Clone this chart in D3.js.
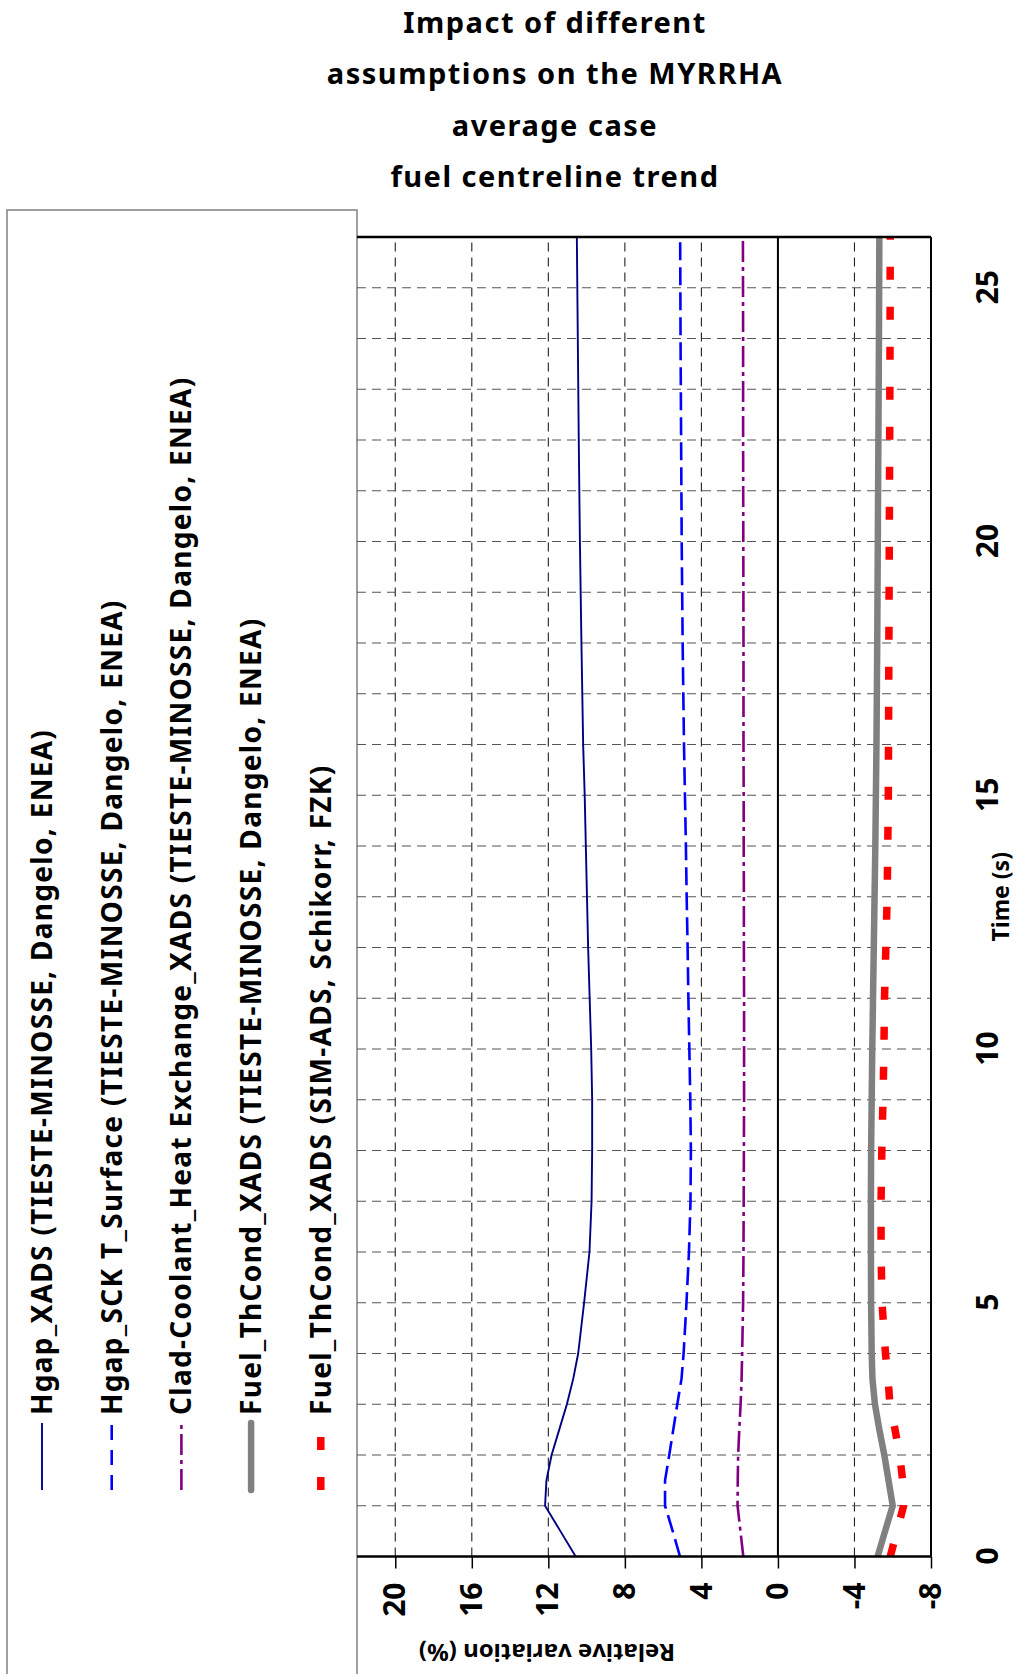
<!DOCTYPE html>
<html>
<head>
<meta charset="utf-8">
<script src="https://cdn.jsdelivr.net/npm/d3@7"></script>
<style>
  body { margin: 0; background: #fff; }
  svg { display: block; }
  text { font-family: 'Noto Sans', 'DejaVu Sans', sans-serif; font-weight: bold; fill: #000; }
</style>
</head>
<body>
<svg id="chart" width="1021" height="1674"></svg>
<script>
// ---- data -------------------------------------------------------------
const titleLines = ["Impact of different", "assumptions on the MYRRHA", "average case", "fuel centreline trend"];
const timeTicks = [0, 5, 10, 15, 20, 25];
const valueTicks = [20, 16, 12, 8, 4, 0, -4, -8];
const gridValues = [20, 16, 12, 8, 4, -4];
const gridTimes = [1,2,3,4,5,6,7,8,9,10,11,12,13,14,15,16,17,18,19,20,21,22,23,24,25];

// time (s)
const time = [0, 0.5, 1, 1.5, 2, 2.5, 3, 3.5, 4, 5, 6, 7, 8, 9, 10, 11, 12, 13, 14, 15, 16, 18, 20, 22, 24, 26];
// relative variation of fuel centreline temperature (%)
const hgapXads      = [10.57, 11.37, 12.17, 12.10, 11.83, 11.43, 11.03, 10.70, 10.44, 10.13, 9.85, 9.74, 9.71, 9.71, 9.76, 9.84, 9.92, 9.98, 10.04, 10.10, 10.18, 10.27, 10.35, 10.41, 10.46, 10.51];
const hgapSck       = [5.12, 5.50, 5.90, 5.90, 5.68, 5.47, 5.26, 5.04, 4.93, 4.78, 4.65, 4.57, 4.55, 4.58, 4.63, 4.68, 4.72, 4.77, 4.81, 4.86, 4.91, 4.98, 5.03, 5.06, 5.09, 5.11];
const cladCoolant   = [1.81, 1.96, 2.11, 2.10, 2.08, 2.02, 1.95, 1.90, 1.87, 1.82, 1.80, 1.79, 1.78, 1.77, 1.77, 1.77, 1.78, 1.78, 1.79, 1.79, 1.80, 1.80, 1.81, 1.82, 1.82, 1.83];
const fuelThCondTm  = [-5.21, -5.60, -6.00, -5.78, -5.56, -5.30, -5.07, -4.94, -4.90, -4.87, -4.86, -4.86, -4.87, -4.90, -4.93, -4.97, -5.01, -5.05, -5.09, -5.12, -5.15, -5.19, -5.22, -5.25, -5.28, -5.30];
const fuelThCondSim = [-5.87, -6.22, -6.57, -6.52, -6.36, -6.12, -5.85, -5.76, -5.62, -5.44, -5.39, -5.39, -5.43, -5.49, -5.54, -5.57, -5.64, -5.71, -5.74, -5.77, -5.78, -5.80, -5.82, -5.84, -5.86, -5.87];

const seriesNames = [
  "Hgap_XADS (TIESTE-MINOSSE, Dangelo, ENEA)",
  "Hgap_SCK T_Surface (TIESTE-MINOSSE, Dangelo, ENEA)",
  "Clad-Coolant_Heat Exchange_XADS (TIESTE-MINOSSE, Dangelo, ENEA)",
  "Fuel_ThCond_XADS (TIESTE-MINOSSE, Dangelo, ENEA)",
  "Fuel_ThCond_XADS (SIM-ADS, Schikorr, FZK)"
];
const seriesValues = [hgapXads, hgapSck, cladCoolant, fuelThCondTm, fuelThCondSim];

// ---- styles ------------------------------------------------------------
const styles = [
  { color: "#000080", width: 1.9, dash: null, keyDash: null, cap: "butt" },
  { color: "#0000ff", width: 2.6, dash: "18,7", keyDash: "15,10", cap: "butt" },
  { color: "#800080", width: 2.6, dash: "21,5,4,5", keyDash: "21,5,4,5", cap: "butt" },
  { color: "#808080", width: 6.5, dash: null, keyDash: null, cap: "round" },
  { color: "#ff0000", width: 7.5, dash: "13,27", keyDash: "13,27", cap: "butt" }
];

// ---- layout ------------------------------------------------------------
const W = 1021, H = 1674;
const svg = d3.select("#chart");

// Title (upright)
svg.append("g").selectAll("text").data(titleLines).join("text")
  .attr("x", 555)
  .attr("y", (d, i) => 33 + i * 51.3)
  .attr("text-anchor", "middle")
  .style("font-size", "29px")
  .style("letter-spacing", "1.5px")
  .text(d => d);

// Everything else is laid out as a normal chart, then turned a quarter turn
// counter-clockwise so time runs upward along the page.
const g = svg.append("g").attr("transform", `translate(0,${H}) rotate(-90)`);

const plot = { left: 117.5, right: 1437, top: 357, bottom: 931 };
const x = d3.scaleLinear().domain([0, 26]).range([plot.left, plot.right]);
const y = d3.scaleLinear().domain([-8, 22]).range([plot.bottom, plot.top]);

// Legend box (above the plot in the chart frame)
const legend = g.append("g");
legend.append("rect")
  .attr("x", -20).attr("y", 7)
  .attr("width", 1464 + 20).attr("height", 350)
  .attr("fill", "#fff").attr("stroke", "#808080").attr("stroke-width", 1.5);

const rowPos = i => 42 + i * 69.7;
seriesNames.forEach((name, i) => {
  const s = styles[i];
  legend.append("line")
    .attr("x1", 184).attr("x2", 251)
    .attr("y1", rowPos(i)).attr("y2", rowPos(i))
    .attr("stroke", s.color).attr("stroke-width", s.width)
    .attr("stroke-linecap", s.cap)
    .attr("stroke-dasharray", s.keyDash);
  legend.append("text")
    .attr("x", 259).attr("y", rowPos(i)).attr("dy", "0.36em")
    .style("font-size", "28px")
    .style("letter-spacing", "1.3px")
    .text(name);
});

// Grid
const grid = g.append("g");
grid.selectAll("line.vg").data(gridValues).join("line")
  .attr("class", "vg")
  .attr("x1", plot.left).attr("x2", plot.right)
  .attr("y1", d => y(d)).attr("y2", d => y(d))
  .attr("stroke", "#222").attr("stroke-width", 1.1)
  .attr("stroke-dasharray", "9,6");
grid.selectAll("line.tg").data(gridTimes).join("line")
  .attr("class", "tg")
  .attr("x1", d => x(d)).attr("x2", d => x(d))
  .attr("y1", plot.top).attr("y2", plot.bottom)
  .attr("stroke", "#555").attr("stroke-width", 1.1)
  .attr("stroke-dasharray", "9,6");

// zero line
g.append("line")
  .attr("x1", plot.left).attr("x2", plot.right)
  .attr("y1", y(0)).attr("y2", y(0))
  .attr("stroke", "#000").attr("stroke-width", 2);

// Series
g.append("clipPath").attr("id", "plotClip").append("rect")
  .attr("x", plot.left).attr("y", plot.top)
  .attr("width", plot.right - plot.left).attr("height", plot.bottom - plot.top);

const line = d3.line().x(d => x(d[0])).y(d => y(d[1])).curve(d3.curveLinear);
const seriesG = g.append("g").attr("clip-path", "url(#plotClip)");
seriesValues.forEach((vals, i) => {
  const s = styles[i];
  seriesG.append("path")
    .datum(time.map((t, k) => [t, vals[k]]))
    .attr("fill", "none")
    .attr("stroke", s.color).attr("stroke-width", s.width)
    .attr("stroke-linecap", s.cap).attr("stroke-linejoin", "round")
    .attr("stroke-dasharray", s.dash)
    .attr("d", line);
});

// Frame
g.append("line").attr("x1", plot.right).attr("x2", plot.right)
  .attr("y1", plot.top).attr("y2", plot.bottom)
  .attr("stroke", "#000").attr("stroke-width", 2.5);
g.append("line").attr("x1", plot.left).attr("x2", plot.right)
  .attr("y1", plot.bottom).attr("y2", plot.bottom)
  .attr("stroke", "#000").attr("stroke-width", 2);

// Value axis
const yAxis = g.append("g").attr("transform", `translate(${plot.left},0)`)
  .call(d3.axisLeft(y).tickValues(valueTicks).tickSize(12).tickPadding(14).tickFormat(d => String(d)));
yAxis.select(".domain").attr("d", `M0,${plot.top}V${plot.bottom}`).attr("stroke", "#000").attr("stroke-width", 2.5);
yAxis.selectAll(".tick line").attr("stroke", "#000").attr("stroke-width", 1.5);
yAxis.selectAll(".tick text").style("font-size", "30px").attr("fill", "#000")
  .style("font-family", "'Noto Sans', sans-serif");

// Time axis
const xAxis = g.append("g").attr("transform", `translate(0,${plot.bottom})`)
  .call(d3.axisBottom(x).tickValues(timeTicks).tickSize(0).tickPadding(46));
xAxis.select(".domain").remove();
xAxis.selectAll(".tick text").style("font-size", "30px").attr("fill", "#000")
  .style("font-family", "'Noto Sans', sans-serif");

// Axis titles
g.append("text")
  .attr("x", (plot.left + plot.right) / 2).attr("y", 1009)
  .attr("text-anchor", "middle")
  .style("font-size", "23px")
  .text("Time (s)");
g.append("text")
  .attr("transform", `translate(21,547) rotate(-90)`)
  .attr("text-anchor", "middle").attr("dy", "0.36em")
  .style("font-size", "24px")
  .text("Relative variation (%)");
</script>
</body>
</html>
